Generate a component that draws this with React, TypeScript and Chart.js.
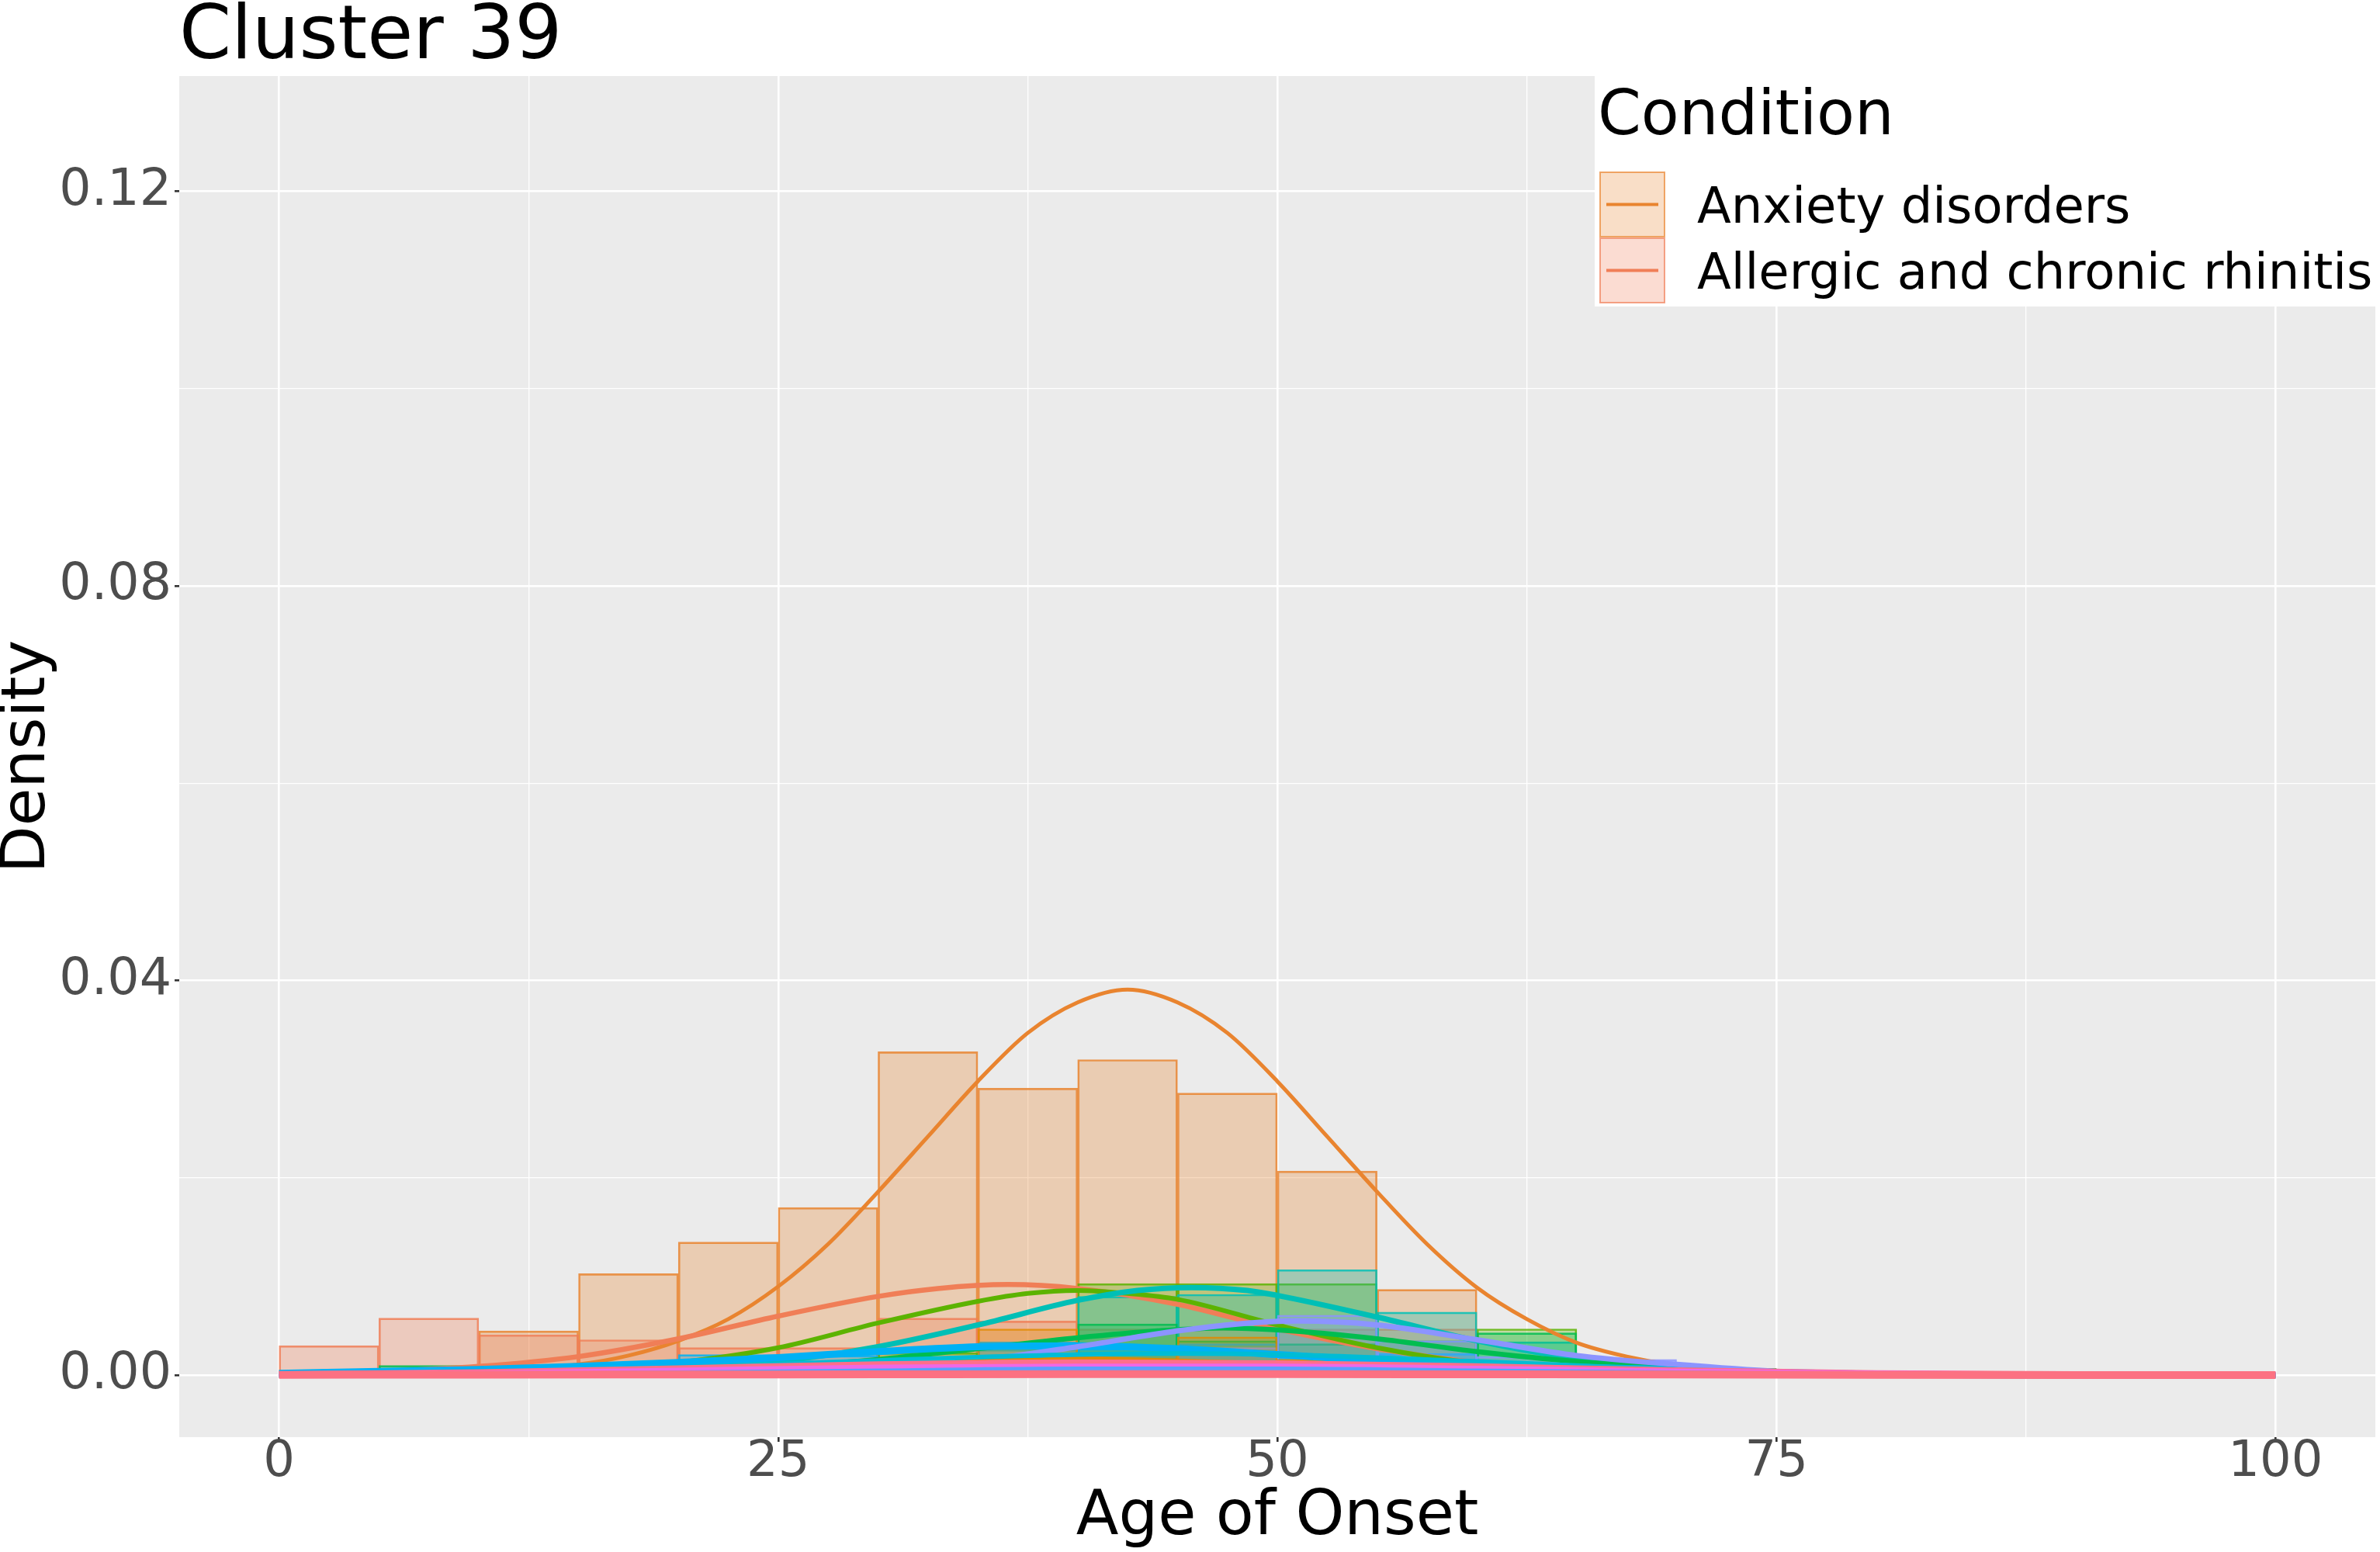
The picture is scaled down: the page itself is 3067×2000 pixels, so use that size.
import React, { useEffect, useRef } from "react";
import { Chart, registerables } from "chart.js";

Chart.register(...registerables);

// ---------- data ----------
const chartTitle = "Cluster 39";
const legendTitle = "Condition";
const xAxisTitle = "Age of Onset";
const yAxisTitle = "Density";

const conditionNames = [
  "Anxiety disorders",
  "Allergic and chronic rhinitis",
  "Condition 3",
  "Condition 4",
  "Condition 5",
  "Condition 6",
  "Condition 7",
  "Condition 8",
  "Condition 9",
  "Condition 10",
  "Condition 11",
  "Condition 12",
  "Condition 13",
];
const legendShown = 2; // the legend is cut off after two entries

const xTickValues = [0, 12.5, 25, 37.5, 50, 62.5, 75, 87.5, 100];
const xMajorTicks = [0, 25, 50, 75, 100];
const yTickValues = [0, 0.02, 0.04, 0.06, 0.08, 0.1, 0.12];
const yMajorTicks = [0, 0.04, 0.08, 0.12];

// histogram bins of width 5 (0-5 ... 70-75)
const binCenters = [2.5, 7.5, 12.5, 17.5, 22.5, 27.5, 32.5, 37.5, 42.5, 47.5, 52.5, 57.5, 62.5, 67.5, 72.5];

const anxietyHist = [0.0005, 0.0005, 0.0045, 0.0103, 0.0135, 0.0170, 0.0328, 0.0291, 0.0320, 0.0286, 0.0207, 0.0087, 0.0006, null, null];
const rhinitisHist = [0.0030, 0.0058, 0.0041, 0.0036, 0.0028, 0.0028, 0.0058, 0.0055, 0.0047, 0.0047, 0.0047, 0.0047, 0.0009, null, null];
const greenYellowHist = [null, null, null, null, null, null, 0.0023, null, 0.0093, 0.0093, 0.0093, null, 0.0047, null, 0.0007];
const tealHist = [null, null, null, null, null, null, null, 0.0026, 0.0080, 0.0082, 0.0107, 0.0064, 0.0034, 0.0013, null];
const greenHist = [null, 0.0010, null, null, 0.0005, null, 0.0012, null, 0.0052, 0.0035, 0.0032, 0.0035, 0.0043, 0.0012, null];
const blueHist = [null, null, null, null, 0.0021, 0.0020, 0.0015, 0.0034, 0.0027, 0.0032, 0.0020, 0.0022, 0.0011, null, null];
const lavenderHist = [null, null, null, null, null, null, null, null, null, 0.0028, 0.0061, 0.0035, 0.0019, 0.0016, null];
const darkOrangeHist = [null, null, null, null, null, null, null, 0.0047, 0.0023, 0.0039, 0.0016, null, null, null, null];

// density curves (x, y pairs)
const anxietyCurveX = [0, 5, 10, 15, 17.5, 20, 22.5, 25, 27.5, 30, 32.5, 35, 37.5, 40, 42.5, 45, 47.5, 50, 52.5, 55, 57.5, 60, 62.5, 65, 67.5, 70, 75, 80, 90, 100];
const anxietyCurveY = [0.00001, 0.0001, 0.0003, 0.0011, 0.0020, 0.0035, 0.0057, 0.0090, 0.0133, 0.0186, 0.0242, 0.0298, 0.0347, 0.0378, 0.0391, 0.0378, 0.0347, 0.0298, 0.0242, 0.0186, 0.0133, 0.0089, 0.0057, 0.0033, 0.0019, 0.0010, 0.0002, 0.00004, 0, 0];
const rhinitisCurveX = [0, 5, 10, 15, 20, 25, 30, 33, 36.5, 40, 45, 50, 55, 60, 65, 70, 75, 80, 90, 100];
const rhinitisCurveY = [0.0002, 0.0004, 0.0009, 0.0019, 0.0037, 0.0060, 0.0080, 0.0088, 0.0092, 0.0088, 0.0072, 0.0047, 0.0027, 0.0013, 0.0005, 0.0002, 0.00005, 0.00001, 0, 0];
const greenYellowCurveX = [0, 10, 15, 20, 25, 30, 35, 37.5, 40, 42.5, 45, 50, 55, 60, 65, 70, 75, 80, 100];
const greenYellowCurveY = [0.00001, 0.00015, 0.0005, 0.0013, 0.0028, 0.0053, 0.0075, 0.0083, 0.0086, 0.0083, 0.0077, 0.0051, 0.0028, 0.0012, 0.0004, 0.0001, 0.00003, 0, 0];
const tealCurveX = [0, 10, 15, 20, 25, 30, 35, 40, 43, 45.7, 48.5, 50, 55, 60, 65, 70, 75, 80, 90, 100];
const tealCurveY = [0, 0.0001, 0.0003, 0.0007, 0.0014, 0.0029, 0.0051, 0.0076, 0.0086, 0.0089, 0.0086, 0.0081, 0.0059, 0.0035, 0.0017, 0.0007, 0.0002, 0.00005, 0, 0];
const greenCurveX = [0, 10, 15, 20, 25, 30, 35, 40, 44, 47.3, 50, 55, 60, 65, 70, 75, 80, 90, 100];
const greenCurveY = [0.00002, 0.0001, 0.0003, 0.0005, 0.0009, 0.0016, 0.0027, 0.0038, 0.0045, 0.0048, 0.0046, 0.0037, 0.0024, 0.0014, 0.0008, 0.0003, 0.0001, 0, 0];
const blueCurveX = [0, 5, 10, 15, 20, 25, 30, 35, 40, 45, 50, 55, 60, 65, 70, 75, 80, 90, 100];
const blueCurveY = [0.0002, 0.0004, 0.0006, 0.0009, 0.0013, 0.0018, 0.0024, 0.0029, 0.0030, 0.0027, 0.0021, 0.0015, 0.0011, 0.0008, 0.0006, 0.0003, 0.0001, 0.00002, 0];
const lavenderCurveX = [0, 20, 25, 30, 35, 40, 45, 48, 51, 55, 60, 65, 70, 75, 80, 90, 100];
const lavenderCurveY = [0, 0.0001, 0.0003, 0.0008, 0.0015, 0.0029, 0.0045, 0.0052, 0.0055, 0.0051, 0.0036, 0.0020, 0.0011, 0.0004, 0.0001, 0, 0];
const darkOrangeCurveX = [0, 10, 15, 20, 25, 30, 35, 38, 45, 50, 55, 60, 65, 70, 80, 100];
const darkOrangeCurveY = [0.00002, 0.0001, 0.0002, 0.0005, 0.0009, 0.0014, 0.0017, 0.0018, 0.0015, 0.0012, 0.0009, 0.0006, 0.0003, 0.0001, 0.00002, 0];
const cyanCurveX = [0, 10, 20, 30, 40, 45, 50, 60, 70, 80, 90, 100];
const cyanCurveY = [0.0001, 0.0003, 0.0008, 0.0015, 0.0021, 0.0022, 0.0021, 0.0014, 0.0006, 0.0002, 0.00005, 0];
const lowCurveX = [0, 10, 20, 30, 40, 50, 60, 70, 80, 90, 100];
const pinkCurveY = [0.0001, 0.0003, 0.0007, 0.0011, 0.0013, 0.0012, 0.0009, 0.0005, 0.0002, 0.0001, 0.00002];
const magentaCurveY = [0.0001, 0.0002, 0.0005, 0.0008, 0.0009, 0.0009, 0.0007, 0.0004, 0.0002, 0.0001, 0.00002];
const lightBlueCurveY = [0, 0.0001, 0.0003, 0.0005, 0.0007, 0.0007, 0.0005, 0.0003, 0.0001, 0.00003, 0];
const bottomPinkCurveY = [0.00005, 0.00006, 0.00008, 0.0001, 0.00012, 0.00012, 0.0001, 0.00008, 0.00005, 0.00003, 0.00002];

// ---------- styles ----------
const seriesColors = ["#E9842F", "#F07E57", "#5CB300", "#00BFB6", "#00BD50", "#00B1F5", "#8C94FF", "#E08A00", "#00BCD5", "#FF6F8A", "#F067E6", "#5B9CFF", "#FC7182"];
const lineWidths = [5, 6.5, 6, 7, 6.5, 9, 7, 5, 6, 8, 7, 5, 10];
const fillAlpha = 0.3;
const FONT = "'DejaVu Sans', 'Noto Sans', sans-serif";

const histograms = [anxietyHist, rhinitisHist, greenYellowHist, tealHist, greenHist, blueHist, lavenderHist, darkOrangeHist, null, null, null, null, null];
const curvesX = [anxietyCurveX, rhinitisCurveX, greenYellowCurveX, tealCurveX, greenCurveX, blueCurveX, lavenderCurveX, darkOrangeCurveX, cyanCurveX, lowCurveX, lowCurveX, lowCurveX, lowCurveX];
const curvesY = [anxietyCurveY, rhinitisCurveY, greenYellowCurveY, tealCurveY, greenCurveY, blueCurveY, lavenderCurveY, darkOrangeCurveY, cyanCurveY, pinkCurveY, magentaCurveY, lightBlueCurveY, bottomPinkCurveY];

function rgba(hex: string, a: number) {
  const n = parseInt(hex.slice(1), 16);
  return `rgba(${(n >> 16) & 255},${(n >> 8) & 255},${n & 255},${a})`;
}
const near = (a: number, list: number[]) => list.some((v) => Math.abs(v - a) < 1e-9);

function buildDatasets() {
  const ds: any[] = [];
  const n = conditionNames.length;
  // histogram layers (drawn below all curves)
  histograms.forEach((h, i) => {
    if (!h) return;
    const pts = binCenters
      .map((c, k) => (h[k] == null ? null : { x: c, y: h[k] as number }))
      .filter((p) => p !== null);
    ds.push({
      type: "bar",
      label: conditionNames[i] + " (hist)",
      data: pts,
      backgroundColor: rgba(seriesColors[i], fillAlpha),
      borderColor: rgba(seriesColors[i], 0.85),
      borderWidth: 2,
      borderSkipped: false,
      grouped: false,
      barPercentage: 1,
      categoryPercentage: 1,
      order: 200 + (n - i),
    });
  });
  // density curves
  curvesX.forEach((xs, i) => {
    ds.push({
      type: "line",
      label: conditionNames[i],
      data: xs.map((x, k) => ({ x, y: curvesY[i][k] })),
      borderColor: seriesColors[i],
      backgroundColor: seriesColors[i],
      borderWidth: lineWidths[i],
      pointRadius: 0,
      fill: false,
      cubicInterpolationMode: "monotone",
      borderJoinStyle: "round",
      order: n - i,
    });
  });
  return ds;
}

const panelBackground = {
  id: "panelBackground",
  beforeDraw(chart: any) {
    const { ctx, chartArea } = chart;
    ctx.save();
    ctx.fillStyle = "#EBEBEB";
    ctx.fillRect(chartArea.left, chartArea.top, chartArea.right - chartArea.left, chartArea.bottom - chartArea.top);
    ctx.restore();
  },
};

const titleAndLegend = {
  id: "titleAndLegend",
  afterDraw(chart: any) {
    const { ctx, chartArea } = chart;
    ctx.save();
    // plot title
    ctx.fillStyle = "#000000";
    ctx.textAlign = "left";
    ctx.textBaseline = "alphabetic";
    ctx.font = `96px ${FONT}`;
    ctx.fillText(chartTitle, chartArea.left, 75);

    // legend box
    const boxX = 2055;
    ctx.fillStyle = "#FFFFFF";
    ctx.fillRect(boxX, chartArea.top, chart.width - boxX, 395 - chartArea.top);
    ctx.fillStyle = "#000000";
    ctx.font = `80px ${FONT}`;
    ctx.fillText(legendTitle, 2059, 173);

    const keyX = 2062;
    const keySize = 83;
    const keyTop0 = 222;
    ctx.font = `64px ${FONT}`;
    for (let i = 0; i < legendShown; i++) {
      const top = keyTop0 + i * 85;
      ctx.fillStyle = rgba(seriesColors[i], 0.27);
      ctx.fillRect(keyX, top, keySize, keySize);
      ctx.strokeStyle = rgba(seriesColors[i], 0.7);
      ctx.lineWidth = 2;
      ctx.strokeRect(keyX, top, keySize, keySize);
      ctx.strokeStyle = seriesColors[i];
      ctx.lineWidth = 4;
      ctx.beginPath();
      ctx.moveTo(keyX + 8, top + keySize / 2);
      ctx.lineTo(keyX + keySize - 8, top + keySize / 2);
      ctx.stroke();
      ctx.fillStyle = "#000000";
      ctx.fillText(conditionNames[i], 2187, top + keySize / 2 + 23);
    }
    ctx.restore();
  },
};

export default function App() {
  const canvasRef = useRef<HTMLCanvasElement | null>(null);

  useEffect(() => {
    document.body.style.margin = "0";
    document.body.style.overflow = "hidden";
    const canvas = canvasRef.current;
    if (!canvas) return;
    const chart = new Chart(canvas, {
      type: "line",
      data: { datasets: buildDatasets() },
      options: {
        animation: false,
        responsive: false,
        devicePixelRatio: 1,
        parsing: true,
        layout: { padding: { top: 98, right: 6, left: 0, bottom: 0 } },
        plugins: {
          legend: { display: false },
          tooltip: { enabled: false },
          title: { display: false },
        },
        scales: {
          x: {
            type: "linear",
            min: -5,
            max: 105,
            offset: false,
            afterBuildTicks: (s: any) => {
              s.ticks = xTickValues.map((v) => ({ value: v }));
            },
            afterFit: (s: any) => {
              s.height = 148;
            },
            border: { display: false },
            grid: {
              offset: false,
              color: "#FFFFFF",
              lineWidth: (c: any) => (c.tick && near(c.tick.value, xMajorTicks) ? 2.6 : 1.3),
              drawTicks: true,
              tickLength: 6,
              tickWidth: 2.6,
              tickColor: (c: any) => (c.tick && near(c.tick.value, xMajorTicks) ? "#333333" : "rgba(0,0,0,0)"),
            },
            ticks: {
              autoSkip: false,
              maxRotation: 0,
              padding: -5,
              color: "#4D4D4D",
              font: { family: FONT, size: 64, lineHeight: 1 },
              callback: (v: any) => (near(Number(v), xMajorTicks) ? String(v) : ""),
            },
            title: {
              display: true,
              text: xAxisTitle,
              color: "#000000",
              font: { family: FONT, size: 80, lineHeight: 1 },
              padding: { top: 0, bottom: 4 },
            },
          },
          y: {
            type: "linear",
            min: -0.00627,
            max: 0.1317,
            afterBuildTicks: (s: any) => {
              s.ticks = yTickValues.map((v) => ({ value: v }));
            },
            afterFit: (s: any) => {
              s.width = 231;
            },
            border: { display: false },
            grid: {
              color: "#FFFFFF",
              lineWidth: (c: any) => (c.tick && near(c.tick.value, yMajorTicks) ? 2.6 : 1.3),
              drawTicks: true,
              tickLength: 6,
              tickWidth: 2.6,
              tickColor: (c: any) => (c.tick && near(c.tick.value, yMajorTicks) ? "#333333" : "rgba(0,0,0,0)"),
            },
            ticks: {
              autoSkip: false,
              padding: 4,
              color: "#4D4D4D",
              font: { family: FONT, size: 65, lineHeight: 1 },
              callback: (v: any) => (near(Number(v), yMajorTicks) ? Number(v).toFixed(2) : ""),
            },
            title: {
              display: true,
              text: yAxisTitle,
              color: "#000000",
              font: { family: FONT, size: 79, lineHeight: 0.92 },
              padding: 0,
            },
          },
        },
      } as any,
      plugins: [panelBackground, titleAndLegend],
    });
    return () => chart.destroy();
  }, []);

  return (
    <div style={{ width: 3067, height: 2000, background: "#FFFFFF" }}>
      <canvas ref={canvasRef} width={3067} height={2000} style={{ display: "block", width: 3067, height: 2000 }} />
    </div>
  );
}
